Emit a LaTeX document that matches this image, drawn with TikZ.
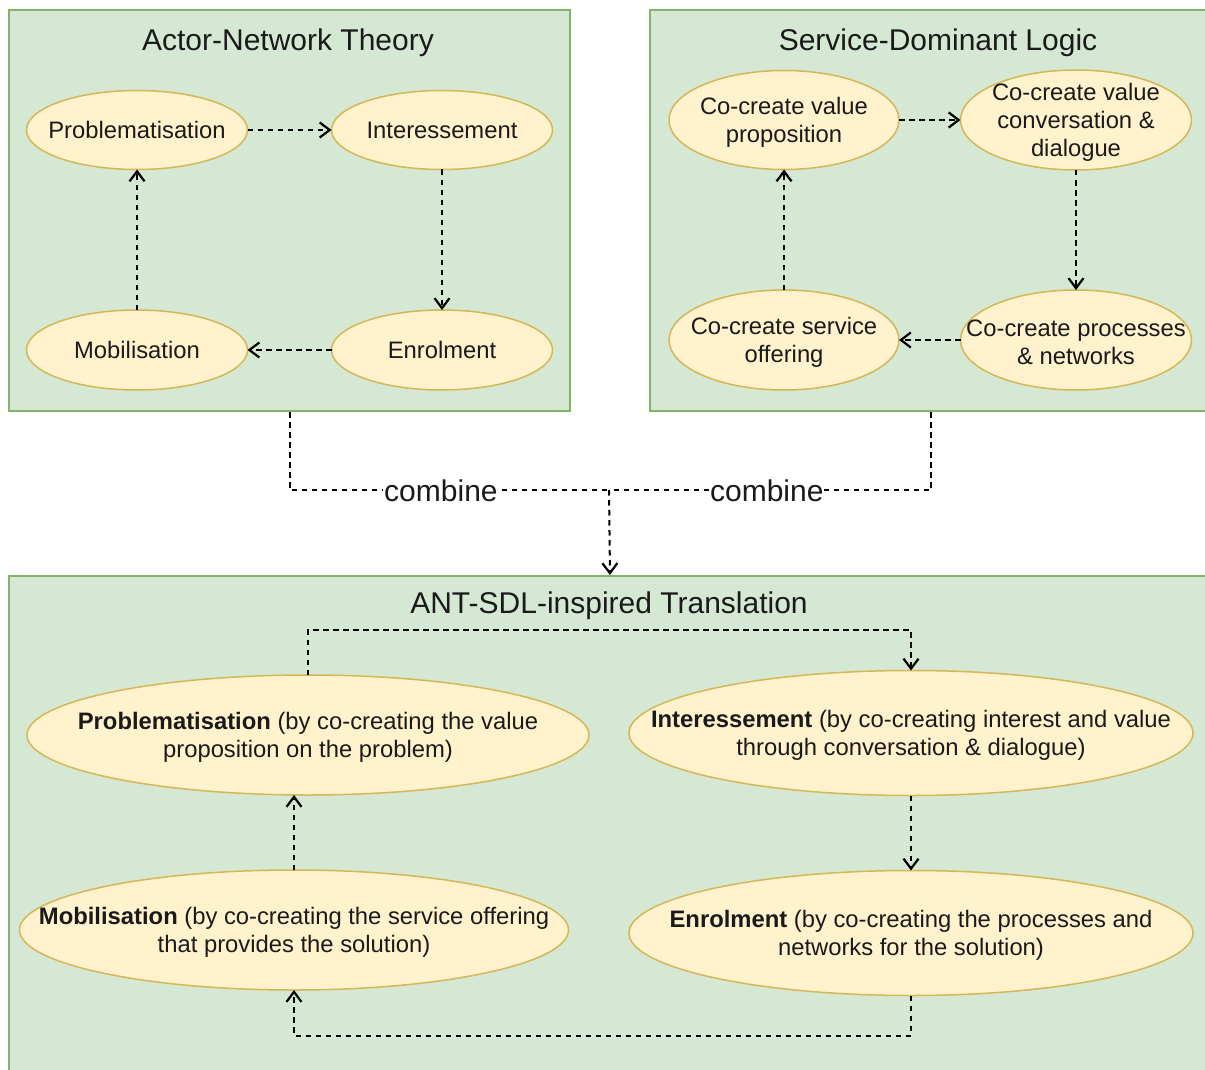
\documentclass[tikz,border=0pt]{standalone}
\usepackage{fontspec}
\setmainfont{Liberation Sans}
\usetikzlibrary{shapes.geometric,arrows.meta}

\definecolor{boxgreen}{HTML}{82B366}
\definecolor{boxfill}{HTML}{D5E8D4}
\definecolor{ellstroke}{HTML}{D6B656}
\definecolor{ellfill}{HTML}{FFF2CC}
\definecolor{ink}{HTML}{1A1A1A}

\tikzset{
  frame/.style={draw=boxgreen, fill=boxfill, line width=2pt, rectangle,
                anchor=north west, inner sep=0pt},
  ttl/.style={font=\fontsize{30}{36}\selectfont, text=ink},
  ell/.style={ellipse, draw=ellstroke, fill=ellfill, line width=1.5pt,
              inner sep=0pt, outer sep=0pt},
  txt/.style={font=\fontsize{23.8}{28}\selectfont, text=ink, align=center},
  txtm/.style={txt, yshift=-2pt},
  link/.style={draw=black, line width=2pt, dash pattern=on 5.5pt off 4.5pt},
  flow/.style={link, -{Straight Barb[length=10pt,width=15pt,line width=2.2pt]}},
  lab/.style={font=\fontsize{30}{36}\selectfont, text=ink, fill=white,
              inner sep=1pt, yshift=-1pt}
}

\begin{document}
\begin{tikzpicture}[x=1pt,y=-1pt]
\useasboundingbox (0,0) rectangle (1205,1070);

% the three framing panels
\node[frame, minimum width=561pt, minimum height=401pt] (ant) at (8,9) {};
\node[frame, minimum width=562pt, minimum height=401pt] (sdl) at (649,9) {};
\node[frame, minimum width=1202pt, minimum height=520pt] (ast) at (8,575) {};

\node[ttl] (antT) at (288,42.5) {Actor-Network Theory};
\node[ttl] (sdlT) at (938,42.5) {Service-Dominant Logic};
\node[ttl] (astT) at (609,605.5) {ANT-SDL-inspired Translation};

% Actor-Network Theory cycle
\node[ell, minimum width=221pt, minimum height=79pt,
      label={[txt]center:Problematisation}] (ap) at (137,130) {};
\node[ell, minimum width=221pt, minimum height=79pt,
      label={[txt]center:Interessement}] (ai) at (442,130) {};
\node[ell, minimum width=221pt, minimum height=80pt,
      label={[txt]center:Enrolment}] (ae) at (442,350) {};
\node[ell, minimum width=221pt, minimum height=80pt,
      label={[txt]center:Mobilisation}] (am) at (137,350) {};

\draw[flow] (ap) -- (ai);
\draw[flow] (ai) -- (ae);
\draw[flow] (ae) -- (am);
\draw[flow] (am) -- (ap);

% Service-Dominant Logic cycle
\node[ell, minimum width=230pt, minimum height=99pt,
      label={[txtm]center:Co-create value\\proposition}] (sv) at (784,120) {};
\node[ell, minimum width=231pt, minimum height=100pt,
      label={[txtm]center:Co-create value\\conversation \&\\dialogue}] (sc) at (1076,120) {};
\node[ell, minimum width=231pt, minimum height=100pt,
      label={[txtm]center:Co-create processes\\\& networks}] (sp) at (1076,340) {};
\node[ell, minimum width=230pt, minimum height=100pt,
      label={[txtm]center:Co-create service\\offering}] (so) at (784,340) {};

\draw[flow] (sv) -- (sc);
\draw[flow] (sc) -- (sp);
\draw[flow] (sp) -- (so);
\draw[flow] (so) -- (sv);

% merging the two theories
\coordinate (join) at (609,490);
\draw[link] (ant.south) |- node[lab, pos=0.737] {combine} (join);
\draw[link] (sdl.south) |- node[lab, pos=0.755] {combine} (join);
\draw[flow] (join) -- (ast.north);

% combined translation cycle
\node[ell, minimum width=562pt, minimum height=120pt,
      label={[txtm]center:\textbf{Problematisation} (by co-creating the value\\proposition on the problem)}] (bp) at (308,735) {};
\node[ell, minimum width=564pt, minimum height=125pt,
      label={[txtm]center:\textbf{Interessement} (by co-creating interest and value\\through conversation \& dialogue)}] (bi) at (911,733) {};
\node[ell, minimum width=564pt, minimum height=125pt,
      label={[txtm]center:\textbf{Enrolment} (by co-creating the processes and\\networks for the solution)}] (be) at (911,933) {};
\node[ell, minimum width=549pt, minimum height=120pt,
      label={[txtm]center:\textbf{Mobilisation} (by co-creating the service offering\\that provides the solution)}] (bm) at (294,930) {};

\draw[flow] (bp.north) -- ++(0,-45) -| (bi.north);
\draw[flow] (bi) -- (be);
\draw[flow] (be.south) -- ++(0,40) -| (bm.south);
\draw[flow] (bm.north) -- (bm.north |- bp.south);
\end{tikzpicture}
\end{document}
